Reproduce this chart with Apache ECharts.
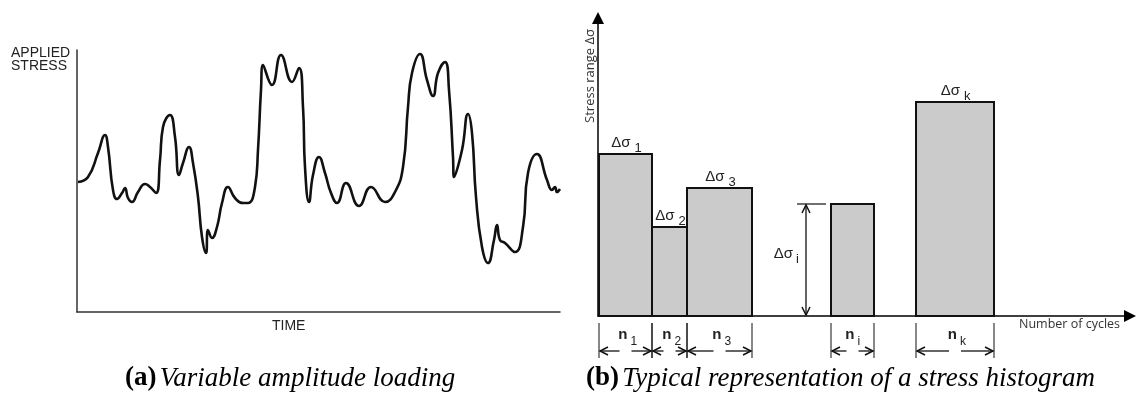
<!DOCTYPE html>
<html>
<head>
<meta charset="utf-8">
<script src="https://cdn.jsdelivr.net/npm/echarts@6/dist/echarts.min.js"></script>
<style>
  html, body { margin: 0; padding: 0; background: #fff; }
  #chart { width: 1142px; height: 405px; }
</style>
</head>
<body>
<div id="chart"></div>
<script>
// (a) variable amplitude loading
const time = [1, 11, 21, 28, 31, 36, 40, 45, 48, 51, 55, 61, 68, 73, 79, 83, 86, 93, 98, 102,
  106, 112, 116, 121, 125, 129, 131, 135, 140, 145, 151, 158, 166, 171, 178, 181, 184, 186, 195, 204,
  215, 222, 226, 228, 232, 236, 242, 248, 254, 260, 269, 282, 294, 308, 318, 326, 331, 335, 343, 350,
  356, 361, 368, 372, 376, 377, 385, 391, 395, 399, 405, 411, 417, 420, 423, 428, 438, 446, 451, 460,
  470, 475, 478, 480, 483];
const stress = [130, 135, 159, 177, 165, 122, 113, 119, 124, 114, 110, 120, 128, 125, 119, 152, 185, 197, 175, 137,
  149, 165, 149, 115, 75, 59, 82, 74, 85, 109, 125, 114, 109, 109, 125, 162, 222, 247, 227, 257,
  230, 244, 205, 145, 110, 137, 155, 139, 119, 109, 129, 106, 125, 110, 120, 145, 205, 239, 258, 232,
  216, 239, 250, 222, 155, 135, 162, 198, 179, 115, 65, 49, 72, 87, 72, 69, 60, 85, 139, 158,
  132, 122, 125, 120, 123];

// (b) stress histogram blocks: cycle span and stress range
const binStart = [1, 54, 89, 233, 318];
const binEnd = [54, 89, 154, 276, 396];
const binRange = [162, 89, 128, 112, 214];
const binSub = ["1", "2", "3", "i", "k"];
const showTopLabel = [true, true, true, false, true];
const dimAt = 208; // where the Δσ_i dimension line sits on the cycles axis

const chart = echarts.init(document.getElementById("chart"));

const ink = "#111";
const sans = "Liberation Sans, Arial, sans-serif";
const serif = "'Liberation Serif', serif";

function arrowHead(x, y, dx, dy) {
  // open "V" arrow head pointing along (dx, dy)
  const L = 8, W = 4;
  const px = -dy, py = dx;
  return {
    type: "polyline",
    shape: { points: [[x - dx * L + px * W, y - dy * L + py * W], [x, y], [x - dx * L - px * W, y - dy * L - py * W]] },
    style: { stroke: ink, lineWidth: 1.5, fill: null },
  };
}

function line(x1, y1, x2, y2, w) {
  return { type: "line", shape: { x1, y1, x2, y2 }, style: { stroke: ink, lineWidth: w || 1.2 } };
}

function renderBin(params, api) {
  const i = params.dataIndex;
  const x0 = api.value(0), x1 = api.value(1), h = api.value(2);
  const pb = api.coord([x0, 0]);
  const pt = api.coord([x1, h]);
  const xl = pb[0], xr = pt[0], yb = pb[1], yt = pt[1];
  const xm = (xl + xr) / 2;
  const kids = [{
    type: "rect",
    shape: { x: xl, y: yt, width: xr - xl, height: yb - yt },
    style: { fill: "#cbcbcb", stroke: ink, lineWidth: 2 },
  }];
  if (showTopLabel[i]) {
    kids.push({ type: "text", style: { text: "Δσ", x: xm + 5, y: yt - 11, align: "right", verticalAlign: "middle", font: "15px " + sans, fill: "#222" } });
    kids.push({ type: "text", style: { text: binSub[i], x: xm + 9, y: yt - 6, align: "left", verticalAlign: "middle", font: "13px " + sans, fill: "#222" } });
  }
  // n dimension under the axis
  const ya = yb + 35, g = 6;
  kids.push(line(xl, yb + 7, xl, yb + 42, 1));
  kids.push(line(xr, yb + 7, xr, yb + 42, 1));
  kids.push(line(xl + 1, ya, xm - g, ya, 1.3));
  kids.push(line(xm + g, ya, xr - 1, ya, 1.3));
  kids.push(arrowHead(xl + 1, ya, -1, 0));
  kids.push(arrowHead(xr - 1, ya, 1, 0));
  kids.push({ type: "text", style: { text: "n", x: xm + 2, y: yb + 19, align: "right", verticalAlign: "middle", font: "bold 15px " + sans, fill: "#222" } });
  kids.push({ type: "text", style: { text: binSub[i], x: xm + 5, y: yb + 26, align: "left", verticalAlign: "middle", font: "12px " + sans, fill: "#222" } });
  return { type: "group", children: kids };
}

function renderDim(params, api) {
  const p0 = api.coord([api.value(0), 0]);
  const p1 = api.coord([api.value(0), api.value(1)]);
  const x = p0[0];
  const ym = (p0[1] + p1[1]) / 2;
  return {
    type: "group",
    children: [
      line(x, p0[1] - 1, x, p1[1] + 1, 1.3),
      arrowHead(x, p1[1] + 1, 0, -1),
      arrowHead(x, p0[1] - 1, 0, 1),
      line(x - 9, p1[1], x + 20, p1[1], 1.2),
      { type: "text", style: { text: "Δσ", x: x - 13, y: ym - 6, align: "right", verticalAlign: "middle", font: "15px " + sans, fill: "#222" } },
      { type: "text", style: { text: binSub[3], x: x - 10, y: ym - 1, align: "left", verticalAlign: "middle", font: "13px " + sans, fill: "#222" } },
    ],
  };
}

const option = {
  animation: false,
  grid: [
    { left: 77, top: 50, width: 483, height: 262 },
    { left: 598, top: 18, width: 532, height: 298 },
  ],
  xAxis: [
    {
      gridIndex: 0, type: "value", min: 0, max: 483,
      axisLine: { lineStyle: { color: "#333", width: 1.5 } },
      axisTick: { show: false }, axisLabel: { show: false }, splitLine: { show: false },
    },
    {
      gridIndex: 1, type: "value", min: 0, max: 532,
      axisLine: { symbol: ["none", "triangle"], symbolSize: [12, 12], lineStyle: { color: "#000", width: 1.5 } },
      axisTick: { show: false }, axisLabel: { show: false }, splitLine: { show: false },
    },
  ],
  yAxis: [
    {
      gridIndex: 0, type: "value", min: 0, max: 262,
      axisLine: { show: true, lineStyle: { color: "#333", width: 1.5 } },
      axisTick: { show: false }, axisLabel: { show: false }, splitLine: { show: false },
    },
    {
      gridIndex: 1, type: "value", min: 0, max: 298,
      axisLine: { show: true, symbol: ["none", "triangle"], symbolSize: [12, 12], lineStyle: { color: "#000", width: 1.5 } },
      axisTick: { show: false }, axisLabel: { show: false }, splitLine: { show: false },
    },
  ],
  series: [
    {
      type: "line",
      xAxisIndex: 0, yAxisIndex: 0,
      data: time.map((t, i) => [t, stress[i]]),
      smooth: 0.5,
      showSymbol: false,
      lineStyle: { color: ink, width: 2.6 },
    },
    {
      type: "custom",
      xAxisIndex: 1, yAxisIndex: 1,
      data: binStart.map((s, i) => [s, binEnd[i], binRange[i]]),
      renderItem: renderBin,
      z: 3,
    },
    {
      type: "custom",
      xAxisIndex: 1, yAxisIndex: 1,
      data: [[dimAt, binRange[3]]],
      renderItem: renderDim,
    },
  ],
  graphic: [
    { type: "text", left: 11, top: 46, style: { text: "APPLIED\nSTRESS", font: "14px " + sans, lineHeight: 13, fill: "#222" } },
    { type: "text", left: 272, top: 319, style: { text: "TIME", font: "14px " + sans, fill: "#222" } },
    { type: "text", x: 590, y: 76, rotation: Math.PI / 2, style: { text: "Stress range Δσ", align: "center", verticalAlign: "middle", font: "13px 'Open Sans', " + sans, fill: "#333" } },
    { type: "text", left: 1019, top: 318, style: { text: "Number of cycles", font: "12.5px 'Open Sans', " + sans, fill: "#333" } },
    {
      type: "text", left: 125, top: 365,
      style: {
        text: "{b|(a)} {i|Variable amplitude loading}",
        rich: {
          b: { font: "bold 27px " + serif, fill: "#000" },
          i: { font: "italic 27px " + serif, fill: "#000" },
        },
      },
    },
    {
      type: "text", left: 586, top: 365,
      style: {
        text: "{b|(b)} {i|Typical representation of a stress histogram}",
        rich: {
          b: { font: "bold 27px " + serif, fill: "#000" },
          i: { font: "italic 27px " + serif, fill: "#000" },
        },
      },
    },
  ],
};

chart.setOption(option);
</script>
</body>
</html>
